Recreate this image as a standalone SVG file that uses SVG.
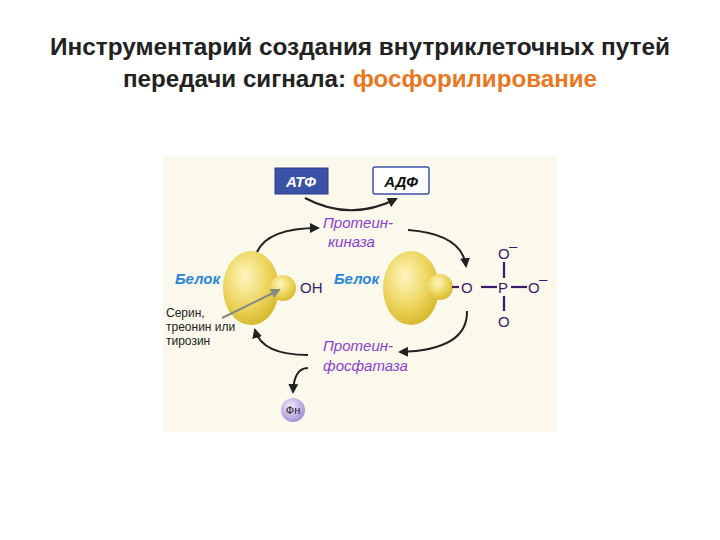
<svg xmlns="http://www.w3.org/2000/svg" width="720" height="540" viewBox="0 0 720 540">
<defs>
<style>
.t{font-family:"Liberation Sans",Arial,sans-serif}
.enz{font-family:"Liberation Sans",Arial,sans-serif;font-style:italic;font-size:15px;fill:#8a3fd0}
.bel{font-family:"Liberation Sans",Arial,sans-serif;font-style:italic;font-weight:bold;font-size:15px;fill:#2a86d8}
.ch{font-family:"Liberation Sans",Arial,sans-serif;font-size:15px;fill:#3a1a6a}
.ar{fill:none;stroke:#222;stroke-width:2;marker-end:url(#ah)}
.bond{stroke:#3a1a6a;stroke-width:2.2}
</style>
<marker id="ah" viewBox="0 0 10 10" refX="8" refY="5" markerWidth="5" markerHeight="5" orient="auto"><path d="M0,0L10,5L0,10z" fill="#222"/></marker>
<marker id="ahg" viewBox="0 0 10 10" refX="8" refY="5" markerWidth="5" markerHeight="5" orient="auto"><path d="M0,0L10,5L0,10z" fill="#888"/></marker>
<radialGradient id="yg" cx="0.4" cy="0.35" r="0.7"><stop offset="0" stop-color="#fff6c0"/><stop offset="0.6" stop-color="#ecd45a"/><stop offset="1" stop-color="#d4b42a"/></radialGradient>
<radialGradient id="pg" cx="0.4" cy="0.35" r="0.7"><stop offset="0" stop-color="#f2eaff"/><stop offset="1" stop-color="#a08cd0"/></radialGradient>
</defs>
<rect width="720" height="540" fill="#fff"/>
<text class="t" x="50" y="55" font-size="23" font-weight="bold" fill="#222" textLength="620" lengthAdjust="spacingAndGlyphs">Инструментарий создания внутриклеточных путей</text>
<text class="t" x="123" y="87" font-size="23" font-weight="bold" fill="#222" textLength="474" lengthAdjust="spacingAndGlyphs">передачи сигнала: <tspan fill="#e87722">фосфорилирование</tspan></text>
<rect x="163" y="157" width="394" height="275" fill="#fbf8ec"/>
<g id="atf"><rect x="275" y="168" width="53" height="26" fill="#3a52a8" stroke="#2a3a80"/><text x="301" y="187" text-anchor="middle" font-family="Liberation Sans,Arial,sans-serif" font-weight="bold" font-style="italic" font-size="15" fill="#fff">АТФ</text></g>
<g id="adf"><rect x="373" y="167" width="56" height="27" rx="2" fill="#fff" stroke="#3a52a8" stroke-width="1.5"/><text x="401" y="187" text-anchor="middle" font-family="Liberation Sans,Arial,sans-serif" font-weight="bold" font-style="italic" font-size="15" fill="#111">АДФ</text></g>
<g id="kinase"><text class="enz" x="323" y="228">Протеин-</text><text class="enz" x="328" y="247">киназа</text></g>
<g id="phosphatase"><text class="enz" x="323" y="351">Протеин-</text><text class="enz" x="323" y="371">фосфатаза</text></g>
<g id="protein1">
<ellipse cx="251" cy="288" rx="28" ry="37" fill="url(#yg)"/>
<circle cx="283" cy="288" r="13" fill="url(#yg)"/>
<text class="bel" x="175" y="284">Белок</text>
<text class="ch" x="300" y="293">OH</text>
</g>
<g id="protein2">
<ellipse cx="411" cy="288" rx="28" ry="37" fill="url(#yg)"/>
<circle cx="440" cy="287" r="13" fill="url(#yg)"/>
<text class="bel" x="334" y="284">Белок</text>
<line class="bond" x1="452" y1="287" x2="459" y2="287"/>
<text class="ch" x="461" y="293">O</text>
<line class="bond" x1="481" y1="287" x2="497" y2="287"/>
<text class="ch" x="498" y="293">P</text>
<line class="bond" x1="511" y1="287" x2="527" y2="287"/>
<text class="ch" x="528" y="293">O</text><text class="ch" x="539" y="284" font-size="12">–</text>
<line class="bond" x1="504" y1="262" x2="504" y2="278"/>
<text class="ch" x="498" y="259">O</text><text class="ch" x="509" y="251" font-size="12">–</text>
<line class="bond" x1="504" y1="296" x2="504" y2="311"/>
<text class="ch" x="498" y="327">O</text>
</g>
<g id="serin"><text class="t" font-size="12" fill="#222"><tspan x="166" y="317">Серин,</tspan><tspan x="166" y="331">треонин или</tspan><tspan x="166" y="345">тирозин</tspan></text></g>
<g id="fn"><circle cx="293" cy="410" r="12" fill="url(#pg)"/><text class="t" x="293" y="414" text-anchor="middle" font-size="11" fill="#222">Фн</text></g>
<g id="connectors">
<path class="ar" d="M305,198 Q350,222 396,199"/>
<path class="ar" d="M257,252 Q268,228 318,228"/>
<path class="ar" d="M408,230 Q462,234 466,266"/>
<path class="ar" d="M467,311 Q468,350 400,352"/>
<path class="ar" d="M308,355 Q262,355 255,330"/>
<path class="ar" d="M308,368 Q294,368 293,392"/>
<path d="M222,318 L279,290" stroke="#888" stroke-width="2" fill="none" marker-end="url(#ahg)"/>
</g>
</svg>
